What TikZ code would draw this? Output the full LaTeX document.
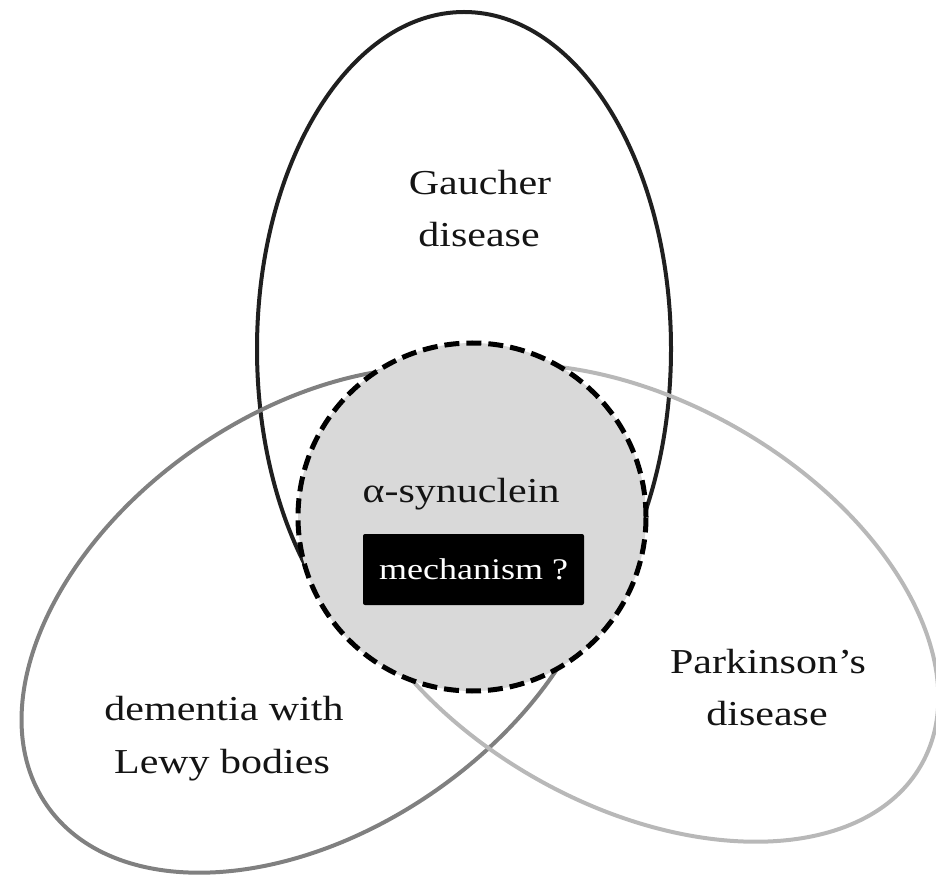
\documentclass[tikz,border=0pt]{standalone}
\usepackage{fontspec}
\setmainfont{Liberation Serif}[FakeStretch=1.2]
\begin{document}
\begin{tikzpicture}[x=1pt,y=1pt,
  setline/.style={line width=4pt},
  lbl/.style={anchor=base, inner sep=0pt, font=\fontsize{35}{42}\selectfont, text=black!92}]
\useasboundingbox (0,0) rectangle (936,876);
\definecolor{dlbgray}{gray}{0.50}
\definecolor{pdgray}{gray}{0.72}
\definecolor{coregray}{gray}{0.85}
% Gaucher disease
\draw[setline, black!88] (464,527) ellipse [x radius=207, y radius=337];
% dementia with Lewy bodies
\draw[setline, dlbgray, rotate around={34.6:(315,256)}] (315,256) ellipse [x radius=326, y radius=209];
% Parkinson's disease
\draw[setline, pdgray, rotate around={-29.5:(636,273)}] (636,273) ellipse [x radius=328, y radius=202];
% alpha-synuclein core
\draw[line width=5pt, dash pattern=on 15pt off 7pt, fill=coregray] (472,359) circle [radius=174];
% labels
\node[lbl] (g1) at (480,681) {Gaucher};
\node[lbl] (g2) at (479,629) {disease};
\node[lbl] (d1) at (224,156) {dementia with};
\node[lbl] (d2) at (222,103) {Lewy bodies};
\node[lbl] (p1) at (768,203) {Parkinson’s};
\node[lbl] (p2) at (767,151) {disease};
\node[lbl] (a1) at (461,373) {α-synuclein};
\node[fill=black, text=white, rounded corners=2pt, minimum width=221pt, minimum height=71pt, inner sep=0pt,
  font=\fontsize{30}{36}\selectfont] (mech) at (473.5,306.5) {mechanism ?};
\end{tikzpicture}
\end{document}
